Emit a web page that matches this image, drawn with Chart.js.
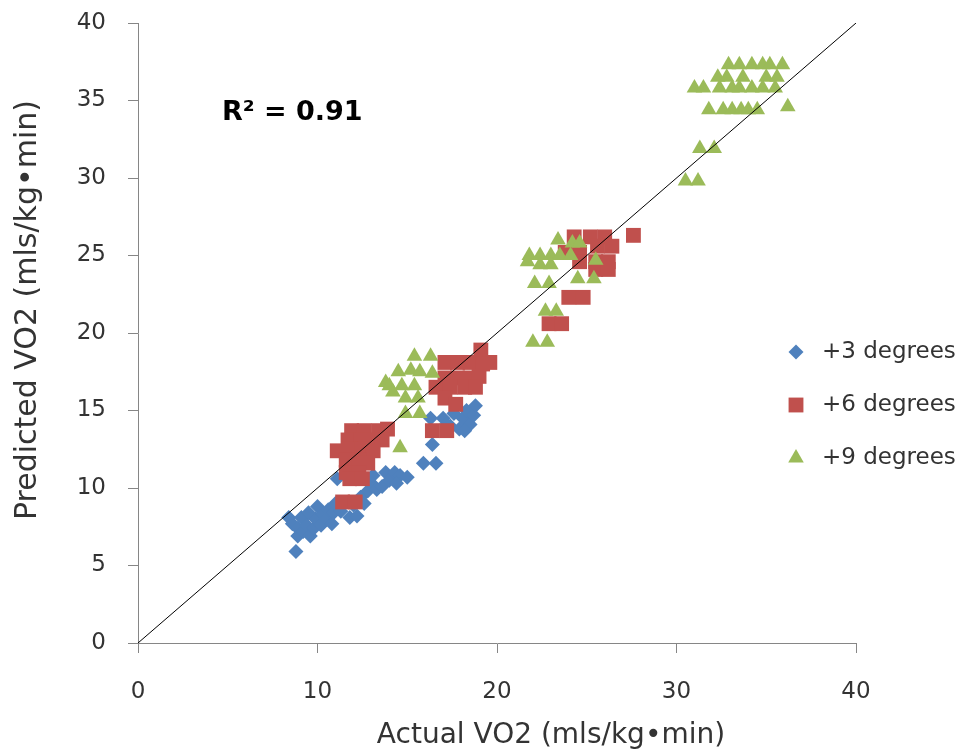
<!DOCTYPE html>
<html>
<head>
<meta charset="utf-8">
<script src="https://cdn.jsdelivr.net/npm/chart.js@4.4.1/dist/chart.umd.min.js"></script>
<style>
  html, body { margin: 0; padding: 0; background: #fff; }
  #wrap { width: 962px; height: 753px; }
</style>
</head>
<body>
<div id="wrap"><canvas id="vo2Chart" width="962" height="753"></canvas></div>
<script>
// [actual, predicted] pairs
const plus3 = [
  [8.4, 8.1], [8.6, 7.7], [8.8, 5.9], [8.9, 6.9], [8.9, 7.4], [9.1, 8.1], [9.2, 7.2],
  [9.4, 7.6], [9.5, 8.4], [9.6, 6.9], [9.8, 7.4], [9.9, 8.0], [10.0, 8.8], [10.2, 7.6],
  [10.3, 8.3], [10.5, 8.0], [10.6, 8.6], [10.8, 7.7], [10.9, 8.4], [11.0, 9.0], [11.1, 10.6],
  [11.3, 8.5], [11.8, 8.1], [12.2, 8.2], [12.0, 8.9], [12.4, 9.4], [12.6, 9.0], [12.8, 9.8],
  [13.0, 10.3], [13.3, 9.9], [13.1, 10.8], [13.6, 10.1], [13.8, 11.0], [14.0, 10.5],
  [14.3, 11.0], [14.6, 10.8], [15.0, 10.7], [14.4, 10.3], [15.9, 11.6], [16.6, 11.6],
  [16.4, 12.8], [16.3, 14.5], [17.0, 14.5], [17.4, 14.0], [17.6, 14.8], [17.9, 13.8],
  [18.1, 14.5], [18.3, 15.0], [18.5, 14.1], [18.7, 14.7], [18.8, 15.3], [18.2, 13.7], [17.2, 14.1]
];
const plus6 = [
  [11.9, 13.7], [12.6, 13.7], [13.4, 13.7], [13.9, 13.8], [11.7, 13.1], [12.4, 13.1],
  [13.0, 13.1], [13.6, 13.1], [11.1, 12.4], [11.8, 12.5], [12.5, 12.5], [13.1, 12.4],
  [11.6, 11.8], [12.3, 11.8], [12.8, 11.6], [11.6, 11.0], [12.3, 11.0], [11.8, 10.6],
  [12.5, 10.6], [11.4, 9.1], [12.1, 9.1], [16.4, 13.7], [17.2, 13.7],
  [19.1, 18.9], [19.6, 18.1], [17.1, 18.1], [17.8, 18.1], [18.5, 18.1], [19.2, 18.0],
  [17.1, 17.1], [17.8, 17.1], [18.5, 17.1], [19.0, 17.2], [16.6, 16.5], [17.4, 16.5],
  [18.2, 16.5], [18.8, 16.5], [17.1, 15.8], [17.7, 15.4],
  [24.3, 26.2], [25.2, 26.2], [26.0, 26.2], [27.6, 26.3], [25.6, 25.6], [26.4, 25.6],
  [23.8, 25.2], [24.6, 25.2], [24.6, 24.6], [25.5, 24.6], [26.2, 24.6], [25.5, 24.1],
  [26.2, 24.1], [24.0, 22.3], [24.8, 22.3], [22.9, 20.6], [23.6, 20.6]
];
const plus9 = [
  [15.4, 18.5], [16.3, 18.5], [14.5, 17.5], [15.2, 17.6], [15.7, 17.5], [16.4, 17.4],
  [13.8, 16.8], [14.0, 16.6], [14.7, 16.6], [15.4, 16.6], [14.2, 16.2], [14.9, 15.8],
  [15.6, 15.8], [14.9, 14.8], [15.7, 14.8], [14.6, 12.6],
  [23.4, 26.0], [24.2, 25.8], [24.6, 25.8], [21.8, 25.0], [22.4, 25.0], [23.0, 25.0],
  [23.5, 25.0], [24.1, 25.0], [21.7, 24.6], [22.4, 24.4], [23.0, 24.4], [25.5, 24.7],
  [24.5, 23.5], [25.4, 23.5], [22.1, 23.2], [22.9, 23.2], [22.7, 21.4], [23.3, 21.4],
  [22.0, 19.4], [22.8, 19.4],
  [32.9, 37.3], [33.5, 37.3], [34.2, 37.3], [34.8, 37.3], [35.2, 37.3], [35.9, 37.3],
  [32.3, 36.5], [32.8, 36.5], [33.7, 36.5], [35.0, 36.5], [35.6, 36.5],
  [31.0, 35.8], [31.5, 35.8], [32.4, 35.8], [33.1, 35.8], [33.5, 35.8], [34.2, 35.8],
  [34.8, 35.8], [35.5, 35.8], [31.8, 34.4], [32.6, 34.4], [33.1, 34.4], [33.6, 34.4],
  [34.0, 34.4], [34.5, 34.4], [36.2, 34.6], [31.3, 31.9], [32.1, 31.9], [30.5, 29.8], [31.2, 29.8]
];
const identityLine = [[0, 0], [40, 40]];

const seriesNames = ['+3 degrees', '+6 degrees', '+9 degrees'];
const xTicks = [0, 10, 20, 30, 40];
const yTicks = [0, 5, 10, 15, 20, 25, 30, 35, 40];
const xTitle = 'Actual VO2 (mls/kg\u2022min)';
const yTitle = 'Predicted VO2 (mls/kg\u2022min)';
const r2Label = 'R\u00B2 = 0.91';

const toXY = arr => arr.map(p => ({ x: p[0], y: p[1] }));
const tickFont = { family: 'DejaVu Sans', size: 23 };
const textColor = '#333333';
const axisColor = '#868686';

// legend, R² note and both axis titles, drawn on top
const extras = {
  id: 'extras',
  afterDraw(chart) {
    const ctx = chart.ctx;
    ctx.save();
    ctx.fillStyle = '#000';
    ctx.font = 'bold 27px "DejaVu Sans"';
    ctx.textBaseline = 'middle';
    ctx.textAlign = 'left';
    ctx.fillText(r2Label, 222, 113);

    ctx.font = '23px "DejaVu Sans"';
    for (let i = 0; i < 3; i++) {
      const ds = chart.data.datasets[i + 1];
      const y = 352 + i * 53;
      ctx.fillStyle = ds.backgroundColor;
      Chart.helpers.drawPoint(ctx, { pointStyle: ds.pointStyle, radius: ds.pointRadius, rotation: 0, borderWidth: 0 }, 796, y);
      ctx.fillStyle = textColor;
      ctx.fillText(seriesNames[i], 822, y);
    }

    ctx.textAlign = 'center';
    ctx.font = '28px "DejaVu Sans"';
    ctx.fillText(xTitle, 551, 736);

    ctx.translate(28, 310);
    ctx.rotate(-Math.PI / 2);
    ctx.font = '30px "DejaVu Sans"';
    ctx.fillText(yTitle, 0, 0);
    ctx.restore();
  }
};

new Chart(document.getElementById('vo2Chart').getContext('2d'), {
  type: 'scatter',
  data: {
    datasets: [
      {
        type: 'line', label: 'y = x', data: toXY(identityLine), order: 0,
        borderColor: '#000', borderWidth: 1, pointRadius: 0, fill: false
      },
      {
        label: seriesNames[0], data: toXY(plus3), order: 3,
        pointStyle: 'rectRot', pointRadius: 7.5,
        backgroundColor: '#4F81BD', borderColor: '#4F81BD', borderWidth: 0
      },
      {
        label: seriesNames[1], data: toXY(plus6), order: 2,
        pointStyle: 'rect', pointRadius: 10.5,
        backgroundColor: '#C0504D', borderColor: '#C0504D', borderWidth: 0
      },
      {
        label: seriesNames[2], data: toXY(plus9), order: 1,
        pointStyle: 'triangle', pointRadius: 9,
        backgroundColor: '#9BBB59', borderColor: '#9BBB59', borderWidth: 0
      }
    ]
  },
  options: {
    responsive: false,
    animation: false,
    devicePixelRatio: 1,
    layout: { padding: { top: 23, right: 106, bottom: 0, left: 0 } },
    plugins: { legend: { display: false }, tooltip: { enabled: false } },
    scales: {
      x: {
        type: 'linear', min: 0, max: 40,
        afterBuildTicks: s => { s.ticks = xTicks.map(v => ({ value: v })); },
        afterFit: s => { s.height = 110; },
        grid: { drawOnChartArea: false, color: axisColor, tickLength: 10 },
        border: { color: axisColor, width: 1 },
        ticks: { font: tickFont, color: textColor, padding: 25, maxRotation: 0 }
      },
      y: {
        type: 'linear', min: 0, max: 40,
        afterBuildTicks: s => { s.ticks = yTicks.map(v => ({ value: v })); },
        afterFit: s => { s.width = 138; s.paddingTop = 14; s.paddingBottom = 14; },
        grid: { drawOnChartArea: false, color: axisColor, tickLength: 10 },
        border: { color: axisColor, width: 1 },
        ticks: { font: tickFont, color: textColor, padding: 22 }
      }
    }
  },
  plugins: [extras]
});
</script>
</body>
</html>
